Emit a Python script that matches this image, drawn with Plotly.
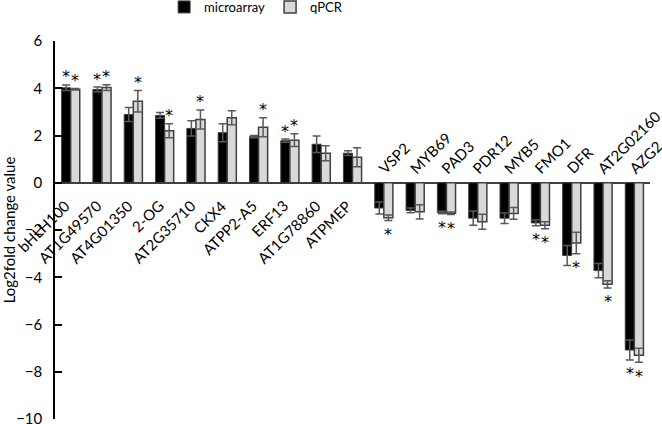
import plotly.graph_objects as go

FONT = "Lato, 'Open Sans', Arial, sans-serif"
STAR_FONT = "'DejaVu Sans', Arial, sans-serif"
INK = "#000000"
EDGE = "#404040"
ERR = "#595959"
QPCR_FILL = "#d9d9d9"

genes = ["bHLH100", "AT1G49570", "AT4G01350", "2-OG", "AT2G35710", "CKX4", "ATPP2-A5",
         "ERF13", "AT1G78860", "ATPMEP", "VSP2", "MYB69", "PAD3", "PDR12", "MYB5",
         "FMO1", "DFR", "AT2G02160", "AZG2"]
microarray = [4.02, 3.95, 2.89, 2.85, 2.30, 2.12, 1.95, 1.78, 1.63, 1.25,
              -1.07, -1.17, -1.26, -1.50, -1.50, -1.70, -3.08, -3.72, -7.08]
microarray_err = [0.12, 0.10, 0.30, 0.12, 0.32, 0.38, 0.05, 0.07, 0.35, 0.10,
                  0.25, 0.10, 0.05, 0.30, 0.22, 0.12, 0.42, 0.30, 0.42]
qpcr = [3.96, 4.03, 3.45, 2.20, 2.68, 2.75, 2.35, 1.80, 1.25, 1.08,
        -1.48, -1.23, -1.29, -1.65, -1.30, -1.80, -2.55, -4.30, -7.30]
qpcr_err = [0.03, 0.12, 0.45, 0.30, 0.40, 0.30, 0.40, 0.27, 0.32, 0.40,
            0.12, 0.30, 0.05, 0.32, 0.25, 0.15, 0.45, 0.15, 0.30]
# significance marks per bar
sig_microarray = ["*", "*", "", "", "", "", "", "*", "", "",
                  "", "", "*", "", "", "*", "", "", "*"]
sig_qpcr = ["*", "*", "*", "*", "*", "", "*", "*", "", "",
            "*", "", "*", "", "", "*", "*", "*", "*"]
y_ticks = [6, 4, 2, 0, -2, -4, -6, -8, -10]

fig = go.Figure()
fig.add_trace(go.Bar(
    x=genes, y=microarray, name="microarray",
    marker=dict(color="#000000", line=dict(color=EDGE, width=1)),
    error_y=dict(type="data", array=microarray_err, color=ERR, thickness=1.5, width=4),
))
fig.add_trace(go.Bar(
    x=genes, y=qpcr, name="qPCR",
    marker=dict(color=QPCR_FILL, line=dict(color=EDGE, width=1.5)),
    error_y=dict(type="data", array=qpcr_err, color=ERR, thickness=1.5, width=4),
))

annotations = []
# category labels: below the axis for up-regulated genes, above for down-regulated
for g, v in zip(genes, microarray):
    if v >= 0:
        annotations.append(dict(x=g, y=0, xref="x", yref="y", text=g, showarrow=False,
                                textangle=-45, xanchor="right", yanchor="top",
                                xshift=5, yshift=-11, font=dict(size=15, color=INK, family=FONT)))
    else:
        annotations.append(dict(x=g, y=0, xref="x", yref="y", text=g, showarrow=False,
                                textangle=-45, xanchor="left", yanchor="bottom",
                                xshift=-12, yshift=3, font=dict(size=15, color=INK, family=FONT)))

# asterisks beyond the error bars
for vals, errs, sigs, dx in [(microarray, microarray_err, sig_microarray, -4.5),
                             (qpcr, qpcr_err, sig_qpcr, 4.5)]:
    for g, v, e, s in zip(genes, vals, errs, sigs):
        if not s:
            continue
        sign = 1 if v >= 0 else -1
        annotations.append(dict(x=g, y=v + sign * e, xref="x", yref="y", text=s,
                                showarrow=False, xanchor="center", yanchor="middle",
                                xshift=dx, yshift=8 if sign > 0 else -14,
                                font=dict(size=16, color=INK, family=STAR_FONT)))

fig.update_layout(
    width=662, height=424,
    barmode="group", bargap=0.42, bargroupgap=0,
    plot_bgcolor="white", paper_bgcolor="white",
    font=dict(family=FONT, size=14, color=INK),
    margin=dict(l=55, r=12, t=41, b=5, autoexpand=False),
    showlegend=True,
    legend=dict(orientation="h", x=0.338, xanchor="center", y=1.09, yanchor="middle",
                font=dict(size=13, color=INK, family=FONT),
                itemwidth=30, tracegroupgap=0, bgcolor="rgba(0,0,0,0)"),
    xaxis=dict(range=[-0.5, len(genes) - 0.5], showticklabels=False, showline=False,
               showgrid=False, ticks="", automargin=False),
    yaxis=dict(range=[-10, 6], tickvals=y_ticks, showgrid=False, automargin=False,
               showline=True, linecolor=INK, linewidth=1.5,
               ticks="inside", ticklen=7, tickcolor=INK, tickwidth=1.5,
               ticklabelstandoff=8, ticklabeloverflow="allow",
               zeroline=True, zerolinecolor=EDGE, zerolinewidth=1.5,
               tickfont=dict(size=15, color=INK, family=FONT),
               title=dict(text="Log2fold change value", standoff=4,
                          font=dict(size=15, color=INK, family=FONT))),
    annotations=annotations,
)

# drop the default page margin so the figure sits at the window origin
fig.write_html("out.html", config={"displayModeBar": False},
               post_script="document.body.style.margin='0';")
